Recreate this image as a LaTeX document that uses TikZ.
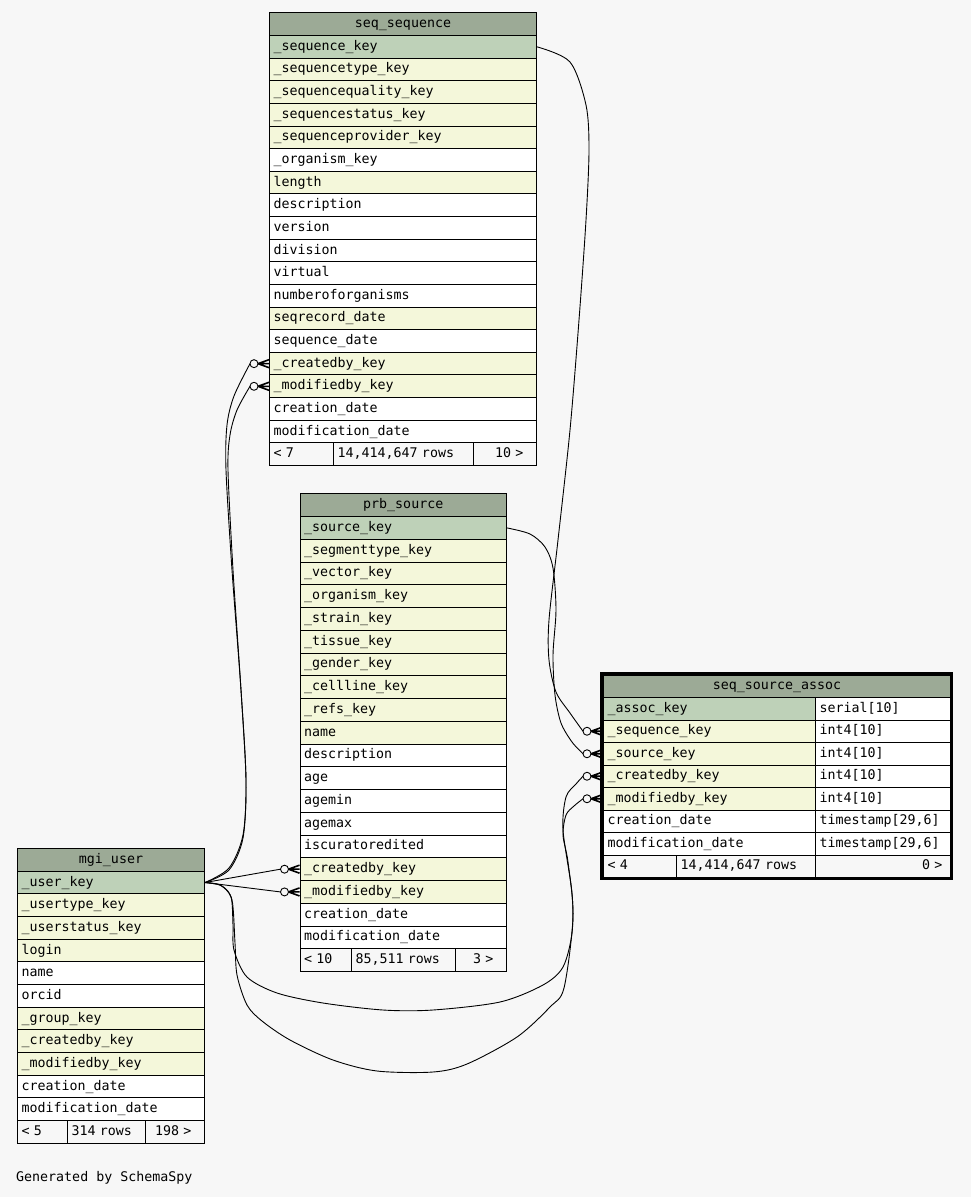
\documentclass[tikz,border=0pt]{standalone}
\usepackage{fontspec}
\setmonofont{DejaVu Sans Mono}
\usetikzlibrary{calc}
\definecolor{bg}{HTML}{F7F7F7}
\definecolor{hdr}{HTML}{9CAA96}
\definecolor{pk}{HTML}{BED1B8}
\definecolor{fk}{HTML}{F4F7DA}
\definecolor{wh}{HTML}{FFFFFF}
\newcommand\monofnt{\ttfamily\fontsize{13.3}{15}\selectfont}
\newcommand\ertable[7]{%
  \pgfmathsetmacro\ertw{#4-8}%
  \node[cell, fill=hdr, align=center, text width=\ertw pt, minimum height=#5pt] (#1-h) at (#2,#3) {#6};%
  \foreach \t/\c [count=\i from 0] in {#7} {%
    \node[cell, fill=\c, text width=\ertw pt, minimum height=#5pt] (#1-r\i) at ({#2},{#3+#5*(\i+1)}) {\t};%
  }%
}
\begin{document}
\begin{tikzpicture}[x=1pt,y=-1pt,
  cell/.style={draw=black, line width=1pt, anchor=north west, inner xsep=4pt, inner ysep=0pt,
    font=\monofnt, align=left, text height=10pt, text depth=3pt},
  rel/.style={draw=black, line width=0.9pt},
  crowo/.pic={\draw[line width=1.6pt] (-11,0) -- (0,-4) (-11,0) -- (0,0) (-11,0) -- (0,4);
              \draw[line width=0.9pt, fill=bg] (-15,0) circle[radius=4pt];}]
\fill[bg] (0,0) rectangle (971,1197);
\useasboundingbox (0,0) rectangle (971,1197);

% ---------- seq_sequence ----------
\ertable{ssq}{269}{12.4}{267}{22.63}{seq\_sequence}{%
  \_sequence\_key/pk, \_sequencetype\_key/fk, \_sequencequality\_key/fk, \_sequencestatus\_key/fk,
  \_sequenceprovider\_key/fk, \_organism\_key/wh, length/fk, description/wh, version/wh,
  division/wh, virtual/wh, numberoforganisms/wh, seqrecord\_date/fk, sequence\_date/wh,
  \_createdby\_key/fk, \_modifiedby\_key/fk, creation\_date/wh, modification\_date/wh}
\node[cell, fill=bg, minimum height=22.63pt, text width=56pt] (ssq-fl) at (269,442.4) {<\ 7};
\node[cell, fill=bg, minimum height=22.63pt, text width=132pt] (ssq-fm) at (333,442.4) {14,414,647 rows};
\node[cell, fill=bg, minimum height=22.63pt, text width=55pt, align=right] (ssq-fr) at (473,442.4) {10 >\hspace*{9pt}\null};

% ---------- prb_source ----------
\ertable{ps}{299.5}{493.3}{206.5}{22.75}{prb\_source}{%
  \_source\_key/pk, \_segmenttype\_key/fk, \_vector\_key/fk, \_organism\_key/fk, \_strain\_key/fk,
  \_tissue\_key/fk, \_gender\_key/fk, \_cellline\_key/fk, \_refs\_key/fk, name/fk, description/wh,
  age/wh, agemin/wh, agemax/wh, iscuratoredited/wh, \_createdby\_key/fk, \_modifiedby\_key/fk,
  creation\_date/wh, modification\_date/wh}
\node[cell, fill=bg, minimum height=22.75pt, text width=43.5pt] (ps-fl) at (299.5,948.3) {<\ 10};
\node[cell, fill=bg, minimum height=22.75pt, text width=96pt] (ps-fm) at (351,948.3) {85,511 rows};
\node[cell, fill=bg, minimum height=22.75pt, text width=43pt, align=right] (ps-fr) at (455,948.3) {3 >\hspace*{9pt}\null};

% ---------- mgi_user ----------
\ertable{mu}{17}{848}{187}{22.67}{mgi\_user}{%
  \_user\_key/pk, \_usertype\_key/fk, \_userstatus\_key/fk, login/fk, name/wh, orcid/wh,
  \_group\_key/fk, \_createdby\_key/fk, \_modifiedby\_key/fk, creation\_date/wh, modification\_date/wh}
\node[cell, fill=bg, minimum height=22.67pt, text width=42pt] (mu-fl) at (17,1120) {<\ 5};
\node[cell, fill=bg, minimum height=22.67pt, text width=70pt] (mu-fm) at (67,1120) {314 rows};
\node[cell, fill=bg, minimum height=22.67pt, text width=51pt, align=right] (mu-fr) at (145,1120) {198 >\hspace*{9pt}\null};

% ---------- seq_source_assoc ----------
\node[cell, fill=hdr, align=center, text width=339pt, minimum height=22.5pt] (sa-h) at (603,674.5) {seq\_source\_assoc};
\foreach \t/\c/\ty [count=\i from 0] in {\_assoc\_key/pk/serial[10], \_sequence\_key/fk/int4[10],
    \_source\_key/fk/int4[10], \_createdby\_key/fk/int4[10], \_modifiedby\_key/fk/int4[10]} {
  \node[cell, fill=\c, text width=204pt, minimum height=22.5pt] (sa-r\i) at (603,{697+22.5*\i}) {\t};
  \node[cell, fill=wh, text width=127pt, minimum height=22.5pt] (sa-t\i) at (815,{697+22.5*\i}) {\ty};
}
\node[cell, fill=wh, text width=204pt, minimum height=22.5pt] (sa-r5) at (603,809.5) {creation\_date};
\node[cell, fill=wh, text width=127pt, minimum height=22.5pt] (sa-t5) at (815,809.5) {timestamp[29,6]};
\node[cell, fill=wh, text width=204pt, minimum height=22.5pt] (sa-r6) at (603,832) {modification\_date};
\node[cell, fill=wh, text width=127pt, minimum height=22.5pt] (sa-t6) at (815,832) {timestamp[29,6]};
\node[cell, fill=bg, minimum height=22.5pt, text width=65pt] (sa-fl) at (603,854.5) {<\ 4};
\node[cell, fill=bg, minimum height=22.5pt, text width=131pt] (sa-fm) at (676,854.5) {14,414,647 rows};
\node[cell, fill=bg, minimum height=22.5pt, text width=127pt, align=right] (sa-fr) at (815,854.5) {0 >\hspace*{4pt}\null};
\draw[line width=3pt] (601.5,673) rectangle (951.5,878.5);

% ---------- connector end points ----------
\coordinate (e-ssq14) at ($(ssq-r14.west)+(-19,0)$);
\coordinate (e-ssq15) at ($(ssq-r15.west)+(-19,0)$);
\coordinate (e-ps15) at ($(ps-r15.west)+(-19,0)$);
\coordinate (e-ps16) at ($(ps-r16.west)+(-19,0)$);
\coordinate (e-sa1) at ($(sa-r1.west)+(-20,0)$);
\coordinate (e-sa2) at ($(sa-r2.west)+(-20,0)$);
\coordinate (e-sa3) at ($(sa-r3.west)+(-20,0)$);
\coordinate (e-sa4) at ($(sa-r4.west)+(-20,0)$);

% ---------- connectors ----------
\draw[rel] plot[smooth, tension=0.5] coordinates {(mu-r0.east) (229,870) (243,838) (246,780) (241,690)
  (232,570) (226,470) (227,425) (234,396) (e-ssq14)};
\draw[rel] plot[smooth, tension=0.5] coordinates {(mu-r0.east) (229,868) (243,835) (246,780) (241,690)
  (233,570) (228,470) (230,435) (237,410) (e-ssq15)};
\draw[rel] (mu-r0.east) -- (e-ps15);
\draw[rel] (mu-r0.east) -- (e-ps16);
\draw[rel] plot[smooth, tension=0.5] coordinates {(ssq-r0.east) (570,62) (586,105) (589,150) (586,220)
  (579,320) (570,430) (558,540) (549,620) (549,660) (556,692) (570,713) (e-sa1)};
\draw[rel] plot[smooth, tension=0.5] coordinates {(ps-r0.east) (530,534) (545,547) (553,568) (556,610)
  (553,655) (555,695) (561,723) (572,742) (e-sa2)};
\draw[rel] plot[smooth, tension=0.5] coordinates {(mu-r0.east) (220,885) (231,897) (233,925) (234,950)
  (247,977) (277,993) (323,1003) (383,1010) (433,1010) (500,1002) (543,985) (563,967) (572,933)
  (572,893) (563,830) (566,797) (576,784) (e-sa3)};
\draw[rel] plot[smooth, tension=0.5] coordinates {(mu-r0.east) (222,886) (232,900) (235,943) (237,975)
  (247,1005) (262,1021) (290,1040) (333,1060) (377,1071) (433,1072) (467,1064) (517,1037) (550,1007)
  (564,988) (573,917) (568,862) (563,835) (566,815) (574,806) (e-sa4)};

% ---------- crow's feet ----------
\pic at (ssq-r14.west) {crowo};
\pic at (ssq-r15.west) {crowo};
\pic at (ps-r15.west) {crowo};
\pic at (ps-r16.west) {crowo};
\pic at ($(sa-r1.west)+(-1,0)$) {crowo};
\pic at ($(sa-r2.west)+(-1,0)$) {crowo};
\pic at ($(sa-r3.west)+(-1,0)$) {crowo};
\pic at ($(sa-r4.west)+(-1,0)$) {crowo};

\node[font=\monofnt, anchor=west, inner sep=0pt] (gen) at (16,1178) {Generated by SchemaSpy};
\end{tikzpicture}
\end{document}
